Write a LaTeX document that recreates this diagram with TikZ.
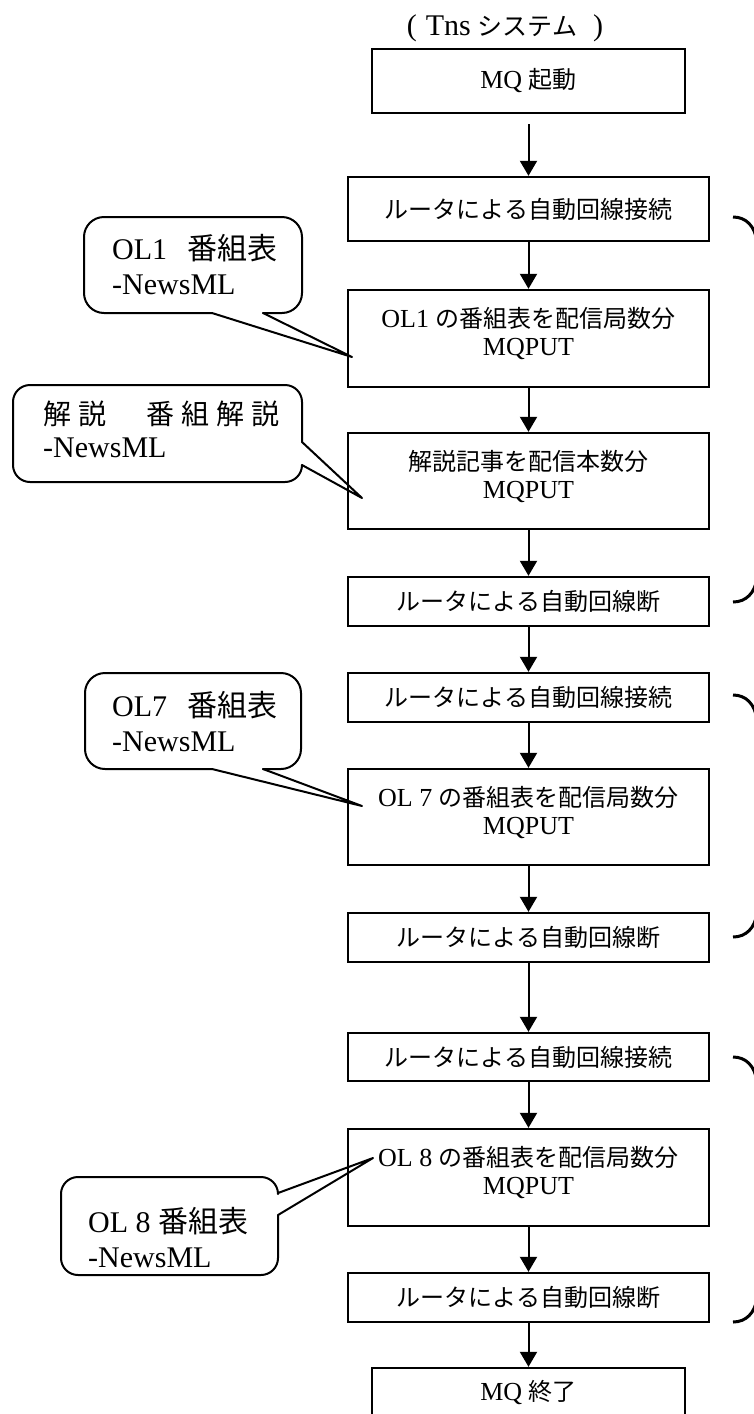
\documentclass[tikz,border=0pt]{standalone}
\usepackage{fontspec}
\setmainfont{Liberation Serif}
\newfontfamily\jpfont{Noto Sans CJK JP}
\usetikzlibrary{arrows.meta}
\newcommand\J[1]{{\jpfont\fontsize{24}{28}\selectfont #1}}
\newcommand\lowstrut{\rule[-14pt]{0pt}{1pt}}
\begin{document}
\begin{tikzpicture}[x=1pt,y=-1pt,
  box/.style={draw,line width=2.4pt,minimum width=361pt,inner sep=0pt,align=center,font=\fontsize{26}{28}\selectfont},
  mqbox/.style={box,minimum width=313pt,minimum height=64pt},
  arr/.style={line width=2pt,-{Triangle[width=17pt,length=15pt]}},
  callout/.style={draw,line width=2pt,line join=round,line cap=round},
  ctext/.style={inner sep=0pt,anchor=west,align=left,font=\fontsize{30}{35}\selectfont},
  brk/.style={line width=3pt}]
\useasboundingbox (0,0) rectangle (753,1414);
\fill[white] (0,0) rectangle (753,1414);

% title
\node (title) at (505,28) {\fontsize{30}{30}\selectfont (\hspace{9pt}Tns\hspace{7pt}{\jpfont\fontsize{25}{25}\selectfont システム}\hspace{16pt})};

% main flow
\node[mqbox] (start) at (528.5,81) {MQ \J{起動}};
\node[box,minimum height=64pt] (c1) at (528.5,209) {\J{ルータによる自動回線接続}};
\node[box,minimum height=97pt] (p1) at (528.5,338.5) {OL1 \J{の番組表を配信局数分}\\MQPUT\lowstrut};
\node[box,minimum height=96pt] (k1) at (528.5,481) {\J{解説記事を配信本数分}\\MQPUT\lowstrut};
\node[box,minimum height=49pt] (d1) at (528.5,601.5) {\J{ルータによる自動回線断}};
\node[box,minimum height=49pt] (c2) at (528.5,697.5) {\J{ルータによる自動回線接続}};
\node[box,minimum height=96pt] (p7) at (528.5,817) {OL 7 \J{の番組表を配信局数分}\\MQPUT\lowstrut};
\node[box,minimum height=49pt] (d2) at (528.5,937.5) {\J{ルータによる自動回線断}};
\node[box,minimum height=48pt] (c3) at (528.5,1057) {\J{ルータによる自動回線接続}};
\node[box,minimum height=97pt] (p8) at (528.5,1177.5) {OL 8 \J{の番組表を配信局数分}\\MQPUT\lowstrut};
\node[box,minimum height=49pt] (d3) at (528.5,1297.5) {\J{ルータによる自動回線断}};
\node[mqbox,minimum height=50pt] (end) at (528.5,1393) {MQ \J{終了}};

\draw[arr,shorten <=10pt] (start) -- (c1);
\draw[arr] (c1) -- (p1);
\draw[arr] (p1) -- (k1);
\draw[arr] (k1) -- (d1);
\draw[arr] (d1) -- (c2);
\draw[arr] (c2) -- (p7);
\draw[arr] (p7) -- (d2);
\draw[arr] (d2) -- (c3);
\draw[arr] (c3) -- (p8);
\draw[arr] (p8) -- (d3);
\draw[arr] (d3) -- (end);

% callouts
\coordinate (t1) at (352,357);
\coordinate (t2) at (362,498);
\coordinate (t3) at (362,806);
\coordinate (t4) at (373,1158);

\draw[callout,rounded corners=20pt] (212,313) -- (84,313) -- (84,217) -- (302,217) -- (302,313) -- (263,313);
\draw[callout] (263,313) -- (t1) -- (212,313);
\draw[callout,rounded corners=17pt] (302,465) -- (302,482) -- (13,482) -- (13,385) -- (302,385) -- (302,442);
\draw[callout] (302,442) -- (t2) -- (302,465);
\draw[callout,rounded corners=20pt] (212,769) -- (85,769) -- (85,673) -- (301,673) -- (301,769) -- (263,769);
\draw[callout] (263,769) -- (t3) -- (212,769);
\draw[callout,rounded corners=17pt] (278,1215) -- (278,1275) -- (61,1275) -- (61,1177) -- (278,1177) -- (278,1193);
\draw[callout] (278,1193) -- (t4) -- (278,1215);

\node[ctext] (n1) at (112,264.5) {OL1\hspace{20pt}\J{\fontsize{30}{35}\selectfont 番組表}\\-NewsML};
\node[ctext,font=\fontsize{30}{33}\selectfont] (n2) at (43,429) {{\jpfont\fontsize{28}{33}\selectfont 解\hspace{7pt}説\hspace{40pt}番\hspace{7pt}組\hspace{7pt}解\hspace{7pt}説}\\-NewsML};
\node[ctext] (n3) at (112,721.5) {OL7\hspace{20pt}\J{\fontsize{30}{35}\selectfont 番組表}\\-NewsML};
\node[ctext] (n4) at (88,1238) {OL 8 \J{\fontsize{30}{35}\selectfont 番組表}\\-NewsML};

% group brackets
\draw[brk] (733,217) .. controls (746,217) and (755,226) .. (757,242);
\draw[brk] (733,602) .. controls (746,602) and (755,593) .. (757,578);
\draw[brk] (733,695) .. controls (746,695) and (755,704) .. (757,720);
\draw[brk] (733,937) .. controls (746,937) and (755,928) .. (757,913);
\draw[brk] (733,1057) .. controls (746,1057) and (755,1066) .. (757,1082);
\draw[brk] (733,1322) .. controls (746,1322) and (755,1313) .. (757,1298);
\end{tikzpicture}
\end{document}
